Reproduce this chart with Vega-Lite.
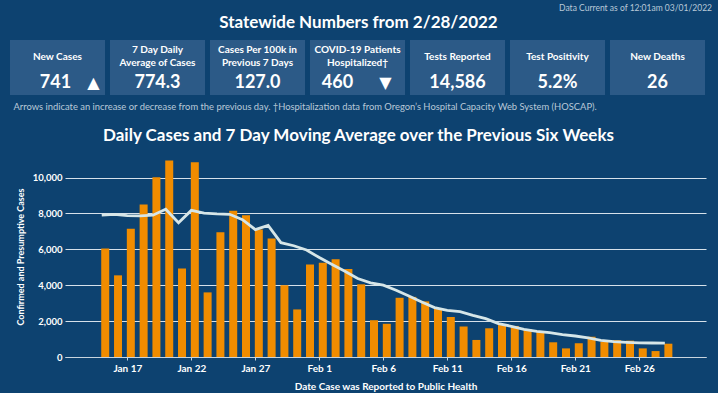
{
  "$schema": "https://vega.github.io/schema/vega-lite/v6.json",
  "background": "#0d4270",
  "padding": {"left": 10, "top": 3, "right": 8, "bottom": 2},
  "title": {"text": "Data Current as of 12:01am 03/01/2022", "anchor": "end", "frame": "bounds", "fontSize": 8.5, "font": "Lato", "color": "#b9c9d8", "fontWeight": "normal", "offset": 2, "dx": -48},
  "config": {"view": {"stroke": null}, "font": "Lato"},
  "spacing": 16,
  "vconcat": [
    {
      "width": 641,
      "height": 55,
      "title": {"text": "Statewide Numbers from 2/28/2022", "fontSize": 17, "fontWeight": "bold", "color": "#ffffff", "offset": 8, "anchor": "middle", "dx": -27},
      "data": {"values": [
        {"metric": "New Cases", "label": "New Cases", "value": "741", "arrow": "▲"},
        {"metric": "7 Day Average", "label": "7 Day Daily\nAverage of Cases", "value": "774.3", "arrow": ""},
        {"metric": "Cases Per 100k", "label": "Cases Per 100k in\nPrevious 7 Days", "value": "127.0", "arrow": ""},
        {"metric": "Hospitalized", "label": "COVID-19 Patients\nHospitalized†", "value": "460", "arrow": "▼"},
        {"metric": "Tests Reported", "label": "Tests Reported", "value": "14,586", "arrow": ""},
        {"metric": "Test Positivity", "label": "Test Positivity", "value": "5.2%", "arrow": ""},
        {"metric": "New Deaths", "label": "New Deaths", "value": "26", "arrow": ""}
      ]},
      "encoding": {
        "x": {"field": "metric", "type": "nominal", "sort": null,
          "scale": {"range": [-55, 640], "paddingInner": 0.05, "paddingOuter": 0},
          "axis": {"title": "Arrows indicate an increase or decrease from the previous day. †Hospitalization data from Oregon’s Hospital Capacity Web System (HOSCAP).",
            "labels": false, "ticks": false, "domain": false, "titleAnchor": "start", "titleFontSize": 9.4, "titleFontWeight": "normal", "titleColor": "#b9c9d8", "titlePadding": 7, "titleX": -52}}
      },
      "layer": [
        {"mark": {"type": "bar", "color": "#2c5a87"}},
        {"transform": [{"filter": "indexof(datum.label, '\\n') < 0"}],
          "mark": {"type": "text", "dy": -10.5, "fontSize": 10, "fontWeight": "bold", "color": "#ffffff"}, "encoding": {"text": {"field": "label"}}},
        {"transform": [{"filter": "indexof(datum.label, '\\n') >= 0"}],
          "mark": {"type": "text", "lineBreak": "\n", "dy": -17.5, "fontSize": 10, "fontWeight": "bold", "color": "#ffffff", "lineHeight": 13}, "encoding": {"text": {"field": "label"}}},
        {"transform": [{"filter": "datum.arrow == ''"}], "mark": {"type": "text", "dy": 15.5, "fontSize": 18, "fontWeight": "bold", "color": "#ffffff"}, "encoding": {"text": {"field": "value"}}},
        {"transform": [{"filter": "datum.metric == 'New Cases'"}], "mark": {"type": "text", "dy": 15.5, "dx": -2, "fontSize": 18, "fontWeight": "bold", "color": "#ffffff"}, "encoding": {"text": {"field": "value"}}},
        {"transform": [{"filter": "datum.metric == 'Hospitalized'"}], "mark": {"type": "text", "dy": 15.5, "dx": -20, "fontSize": 18, "fontWeight": "bold", "color": "#ffffff"}, "encoding": {"text": {"field": "value"}}},
        {"transform": [{"filter": "datum.metric == 'New Cases'"}], "mark": {"type": "text", "dy": 15.5, "dx": 36, "fontSize": 16, "font": "DejaVu Sans", "color": "#ffffff"}, "encoding": {"text": {"field": "arrow"}}},
        {"transform": [{"filter": "datum.metric == 'Hospitalized'"}], "mark": {"type": "text", "dy": 15.5, "dx": 28, "fontSize": 16, "font": "DejaVu Sans", "color": "#ffffff"}, "encoding": {"text": {"field": "arrow"}}}
      ]
    },
    {
      "width": 641,
      "height": 201,
      "title": {"text": "Daily Cases and 7 Day Moving Average over the Previous Six Weeks", "fontSize": 17, "fontWeight": "bold", "color": "#ffffff", "offset": 11, "anchor": "middle", "dx": -27},
      "data": {"values": [
        {"date": "2022-01-15T00:00", "cases": 6050, "avg": 7900},
        {"date": "2022-01-16T00:00", "cases": 4550, "avg": 7950},
        {"date": "2022-01-17T00:00", "cases": 7150, "avg": 7880},
        {"date": "2022-01-18T00:00", "cases": 8500, "avg": 7860},
        {"date": "2022-01-19T00:00", "cases": 10020, "avg": 7900},
        {"date": "2022-01-20T00:00", "cases": 10950, "avg": 8230},
        {"date": "2022-01-21T00:00", "cases": 4930, "avg": 7480},
        {"date": "2022-01-22T00:00", "cases": 10850, "avg": 8170},
        {"date": "2022-01-23T00:00", "cases": 3600, "avg": 8020},
        {"date": "2022-01-24T00:00", "cases": 6950, "avg": 7970},
        {"date": "2022-01-25T00:00", "cases": 8150, "avg": 7950},
        {"date": "2022-01-26T00:00", "cases": 7900, "avg": 7650},
        {"date": "2022-01-27T00:00", "cases": 7100, "avg": 7100},
        {"date": "2022-01-28T00:00", "cases": 6600, "avg": 7330},
        {"date": "2022-01-29T00:00", "cases": 4000, "avg": 6370},
        {"date": "2022-01-30T00:00", "cases": 2650, "avg": 6200},
        {"date": "2022-01-31T00:00", "cases": 5150, "avg": 5960},
        {"date": "2022-02-01T00:00", "cases": 5250, "avg": 5540},
        {"date": "2022-02-02T00:00", "cases": 5450, "avg": 5150},
        {"date": "2022-02-03T00:00", "cases": 4900, "avg": 4780},
        {"date": "2022-02-04T00:00", "cases": 4050, "avg": 4370},
        {"date": "2022-02-05T00:00", "cases": 2050, "avg": 4130},
        {"date": "2022-02-06T00:00", "cases": 1850, "avg": 4000},
        {"date": "2022-02-07T00:00", "cases": 3300, "avg": 3720},
        {"date": "2022-02-08T00:00", "cases": 3350, "avg": 3400},
        {"date": "2022-02-09T00:00", "cases": 3100, "avg": 3070},
        {"date": "2022-02-10T00:00", "cases": 2700, "avg": 2750},
        {"date": "2022-02-11T00:00", "cases": 2230, "avg": 2600},
        {"date": "2022-02-12T00:00", "cases": 1700, "avg": 2530},
        {"date": "2022-02-13T00:00", "cases": 950, "avg": 2320},
        {"date": "2022-02-14T00:00", "cases": 1600, "avg": 2140},
        {"date": "2022-02-15T00:00", "cases": 1780, "avg": 1860},
        {"date": "2022-02-16T00:00", "cases": 1730, "avg": 1710},
        {"date": "2022-02-17T00:00", "cases": 1560, "avg": 1545},
        {"date": "2022-02-18T00:00", "cases": 1400, "avg": 1430},
        {"date": "2022-02-19T00:00", "cases": 820, "avg": 1360},
        {"date": "2022-02-20T00:00", "cases": 480, "avg": 1250},
        {"date": "2022-02-21T00:00", "cases": 770, "avg": 1170},
        {"date": "2022-02-22T00:00", "cases": 1130, "avg": 1060},
        {"date": "2022-02-23T00:00", "cases": 840, "avg": 930},
        {"date": "2022-02-24T00:00", "cases": 940, "avg": 860},
        {"date": "2022-02-25T00:00", "cases": 910, "avg": 820},
        {"date": "2022-02-26T00:00", "cases": 480, "avg": 785},
        {"date": "2022-02-27T00:00", "cases": 330, "avg": 780},
        {"date": "2022-02-28T00:00", "cases": 741, "avg": 774.3}
      ]},
      "encoding": {
        "x": {"field": "date", "type": "temporal",
          "scale": {"domain": [{"year": 2022, "month": 1, "date": 12, "hours": 12, "minutes": 30}, {"year": 2022, "month": 3, "date": 2, "hours": 19, "minutes": 45}]},
          "axis": {
            "title": "Date Case was Reported to Public Health",
            "values": [
              {"year": 2022, "month": 1, "date": 17}, {"year": 2022, "month": 1, "date": 22}, {"year": 2022, "month": 1, "date": 27},
              {"year": 2022, "month": 2, "date": 1}, {"year": 2022, "month": 2, "date": 6}, {"year": 2022, "month": 2, "date": 11},
              {"year": 2022, "month": 2, "date": 16}, {"year": 2022, "month": 2, "date": 21}, {"year": 2022, "month": 2, "date": 26}
            ],
            "format": "%b %-d", "grid": false,
            "labelFontSize": 10, "labelFontWeight": "bold", "labelColor": "#ffffff", "labelPadding": 3,
            "tickSize": 3, "tickColor": "#c8d4de", "domainColor": "#c8d4de",
            "titleFontSize": 10, "titleFontWeight": "bold", "titleColor": "#ffffff", "titlePadding": 8
          }
        }
      },
      "layer": [
        {"mark": {"type": "bar", "color": "#f08c00", "width": 8, "xOffset": 3.5},
          "encoding": {"y": {"field": "cases", "type": "quantitative",
            "scale": {"domain": [0, 11200], "nice": false},
            "axis": {"title": "Confirmed and Presumptive Cases", "values": [0, 2000, 4000, 6000, 8000, 10000], "format": ",.0f",
              "labelFontSize": 9.5, "labelFontWeight": "bold", "labelColor": "#ffffff", "labelPadding": 3,
              "ticks": false, "domain": false, "gridColor": "#d6e1ea", "gridWidth": 1,
              "titleFontSize": 9, "titleFontWeight": "bold", "titleColor": "#ffffff", "titlePadding": 7}}}},
        {"mark": {"type": "line", "color": "#d6e6e8", "strokeWidth": 2.8},
          "encoding": {"y": {"field": "avg", "type": "quantitative"}}}
      ]
    }
  ]
}
